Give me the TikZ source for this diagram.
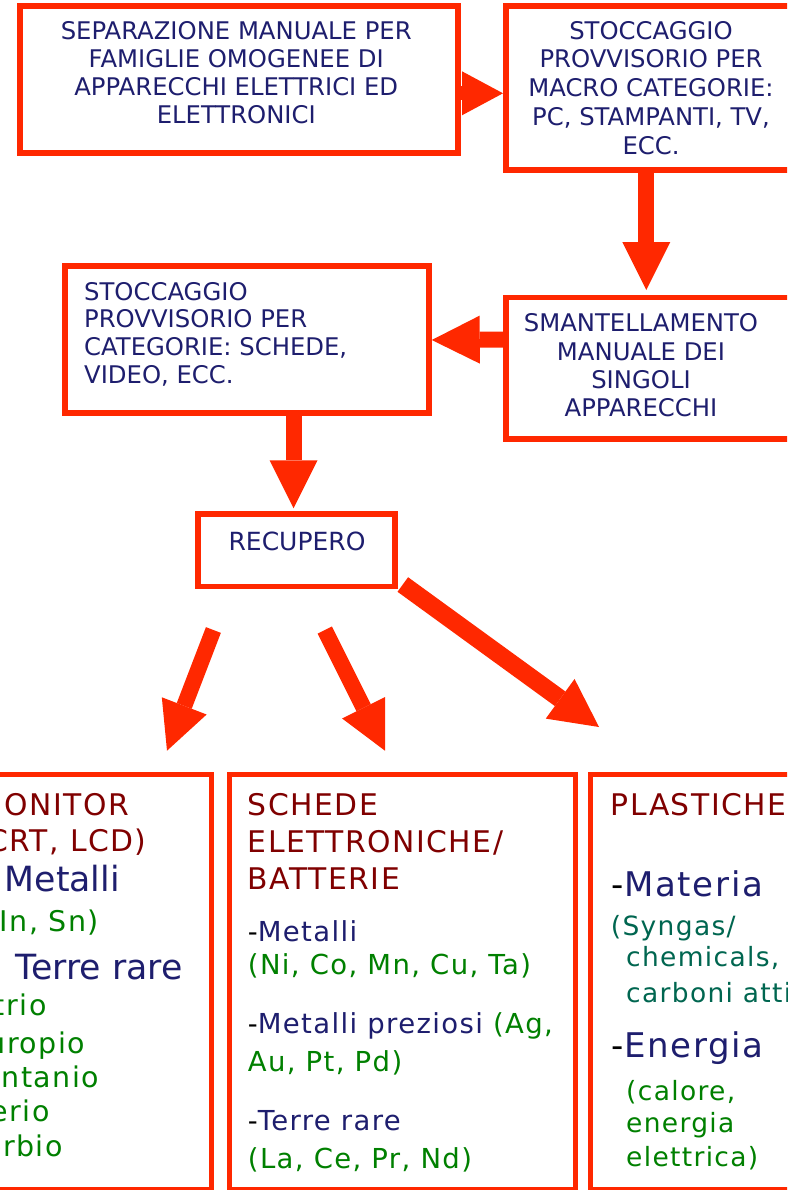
\documentclass[tikz,border=0pt]{standalone}
\usepackage{fontspec}
\setmainfont{DejaVu Sans}
\newfontfamily\wide{DejaVu Sans}[LetterSpace=5]
\usetikzlibrary{arrows.meta,calc}

\definecolor{boxred}{RGB}{255,40,0}
\definecolor{navy}{RGB}{30,30,110}
\definecolor{maroon}{RGB}{128,0,0}
\definecolor{leaf}{RGB}{0,128,0}
\definecolor{sea}{RGB}{0,102,80}

% font sizes (1pt = 1 unit of the picture)
\newcommand{\topfont}{\fontsize{24.3}{28}\selectfont}
\newcommand{\headfont}{\wide\fontsize{29.8}{36}\selectfont}
\newcommand{\bodyfont}{\wide\fontsize{27.5}{32}\selectfont}
\newcommand{\monbody}{\wide\fontsize{28.5}{32}\selectfont}
\newcommand{\bigfont}{\fontsize{34.7}{40}\selectfont}
\newcommand{\plbody}{\wide\fontsize{26.5}{32}\selectfont}
\newcommand{\plbig}{\wide\fontsize{34}{40}\selectfont}

\tikzset{
  box/.style={draw=boxred, fill=white, line width=#1, inner sep=0pt},
  box/.default=5.5pt,
  flow/.style={draw=boxred, line width=16pt,
    -{Triangle[length=48pt, width=48pt, line width=0pt]}},
  smallflow/.style={draw=boxred, line width=14pt,
    -{Triangle[length=41pt, width=44pt, line width=0pt]}},
  wideflow/.style={draw=boxred, line width=18pt,
    -{Triangle[length=48pt, width=49pt, line width=0pt]}},
  topline/.style={anchor=base, inner sep=0pt, text=navy, font=\topfont},
  leftline/.style={anchor=base west, inner sep=0pt},
  rightline/.style={anchor=base east, inner sep=0pt},
}

\begin{document}
\begin{tikzpicture}[x=1pt, y=-1pt]
\useasboundingbox (0,0) rectangle (787,1190);
\clip (0,0) rectangle (787,1190);
\fill[white] (0,0) rectangle (787,1190);

% ---------- process boxes ----------
\node[box=6pt, minimum width=437.5pt, minimum height=147pt] (sep) at (238.75,79.8) {};
\node[box=6pt, minimum width=324pt, minimum height=163.4pt] (mac) at (668,88) {};
\node[box, minimum width=324pt, minimum height=141.5pt] (sman) at (668,368.25) {};
\node[box, minimum width=364pt, minimum height=147pt] (cat) at (247,339.5) {};
\node[box, minimum width=197pt, minimum height=72.5pt] (rec) at (296.5,550.25) {};

% ---------- result boxes ----------
\node[box=5pt, minimum width=271.5pt, minimum height=415.5pt] (mon) at (75.75,981.75) {};
\node[box=5pt, minimum width=346.5pt, minimum height=415.5pt] (sch) at (402.25,981.75) {};
\node[box=5pt, minimum width=239.5pt, minimum height=415.5pt] (pla) at (710.25,981.75) {};

% ---------- flow arrows ----------
\draw[smallflow] ($(sep.east)+(0,13.5)$) -- ($(mac.west)+(0,5.3)$);
\draw[flow] ($(mac.south)+(-21.7,0)$) -- ($(sman.north)+(-21.7,-4.7)$);
\draw[flow] ($(sman.west)+(0,-28.75)$) -- ($(cat.east)+(0,0.5)$);
\draw[flow] ($(cat.south)+(46.5,0)$) -- ($(rec.north)+(-3,-3)$);

\coordinate (m0) at (213.4,630);
\coordinate (m1) at (167,750.7);
\coordinate (s0) at (324.8,630);
\coordinate (s1) at (385,750.7);
\coordinate (p0) at (402.8,584.5);
\coordinate (p1) at (599,727);
\draw[flow] (m0) -- (m1);
\draw[flow] (s0) -- (s1);
\draw[wideflow] (p0) -- (p1);

% ---------- texts of the process boxes ----------
\node[topline] (sepa) at (236.25,39.5) {SEPARAZIONE MANUALE PER};
\node[topline] (sepb) at (236.25,67.5) {FAMIGLIE OMOGENEE DI};
\node[topline] (sepc) at (236.25,95.5) {APPARECCHI ELETTRICI ED};
\node[topline] (sepd) at (236.25,123.5) {ELETTRONICI};

\node[topline] (maca) at (651,39.3) {STOCCAGGIO};
\node[topline] (macb) at (651,68) {PROVVISORIO PER};
\node[topline] (macc) at (651,96.7) {MACRO CATEGORIE:};
\node[topline] (macd) at (651,125.4) {PC, STAMPANTI, TV,};
\node[topline] (mace) at (651,154.1) {ECC.};

\node[topline, anchor=base west] (cata) at (84,300) {STOCCAGGIO};
\node[topline, anchor=base west] (catb) at (84,327.8) {PROVVISORIO PER};
\node[topline, anchor=base west] (catc) at (84,355.6) {CATEGORIE: SCHEDE,};
\node[topline, anchor=base west] (catd) at (84,383.4) {VIDEO, ECC.};

\node[topline] (smana) at (641,331.7) {SMANTELLAMENTO};
\node[topline] (smanb) at (641,360) {MANUALE DEI};
\node[topline] (smanc) at (641,388.3) {SINGOLI};
\node[topline] (smand) at (641,416.6) {APPARECCHI};

\node[topline, font=\fontsize{25}{28}\selectfont] (reca) at (297,550.7) {RECUPERO};

% ---------- MONITOR box ----------
\node[rightline, font=\headfont, text=maroon] (mona) at (129,815.7) {MONITOR};
\node[rightline, font=\headfont, text=maroon] (monb) at (146.7,851.7) {(CRT, LCD)};
\node[rightline, font=\bigfont] (monc) at (120,891) {-\hspace{0.7em}{\color{navy}Metalli}};
\node[rightline, font=\monbody, text=leaf] (mond) at (99,931) {(In, Sn)};
\node[rightline, font=\bigfont] (mone) at (182.7,979) {-\hspace{0.7em}{\color{navy}Terre rare}};
\node[rightline, font=\monbody, text=leaf] (monf) at (46.7,1015) {Ittrio};
\node[rightline, font=\monbody, text=leaf] (mong) at (85,1053) {Europio};
\node[rightline, font=\monbody, text=leaf] (monh) at (99,1087) {Lantanio};
\node[rightline, font=\monbody, text=leaf] (moni) at (50,1121.7) {Cerio};
\node[rightline, font=\monbody, text=leaf] (monj) at (62.7,1156.7) {Terbio};

% ---------- SCHEDE box ----------
\node[leftline, font=\headfont, text=maroon] (scha) at (247.7,815.7) {SCHEDE};
\node[leftline, font=\headfont, text=maroon] (schb) at (247.7,852) {ELETTRONICHE/};
\node[leftline, font=\headfont, text=maroon] (schc) at (247.7,889) {BATTERIE};
\node[leftline, font=\bodyfont] (schd) at (247.7,941.7) {-{\color{navy}Metalli}};
\node[leftline, font=\bodyfont, text=leaf] (sche) at (247.7,974) {(Ni, Co, Mn, Cu, Ta)};
\node[leftline, font=\bodyfont] (schf) at (247.7,1033) {-{\color{navy}Metalli preziosi} {\color{leaf}(Ag,}};
\node[leftline, font=\bodyfont, text=leaf] (schg) at (247.7,1071.7) {Au, Pt, Pd)};
\node[leftline, font=\bodyfont] (schh) at (247.7,1130.7) {-{\color{navy}Terre rare}};
\node[leftline, font=\bodyfont, text=leaf] (schi) at (247.7,1168) {(La, Ce, Pr, Nd)};

% ---------- PLASTICHE box ----------
\node[leftline, font=\headfont, text=maroon] (plaa) at (610.7,815) {PLASTICHE};
\node[leftline, font=\plbig] (plab) at (611.7,896.7) {-{\color{navy}Materia}};
\node[leftline, font=\plbody, text=sea] (plac) at (610.7,935) {(Syngas/};
\node[leftline, font=\plbody, text=sea] (plad) at (626,966) {chemicals,};
\node[leftline, font=\plbody, text=sea] (plae) at (626,1002) {carboni attivi)};
\node[leftline, font=\plbig] (plaf) at (611.7,1057) {-{\color{navy}Energia}};
\node[leftline, font=\plbody, text=leaf] (plag) at (626,1100) {(calore,};
\node[leftline, font=\plbody, text=leaf] (plah) at (626,1132) {energia};
\node[leftline, font=\plbody, text=leaf] (plai) at (626,1166.7) {elettrica)};
\end{tikzpicture}
\end{document}
